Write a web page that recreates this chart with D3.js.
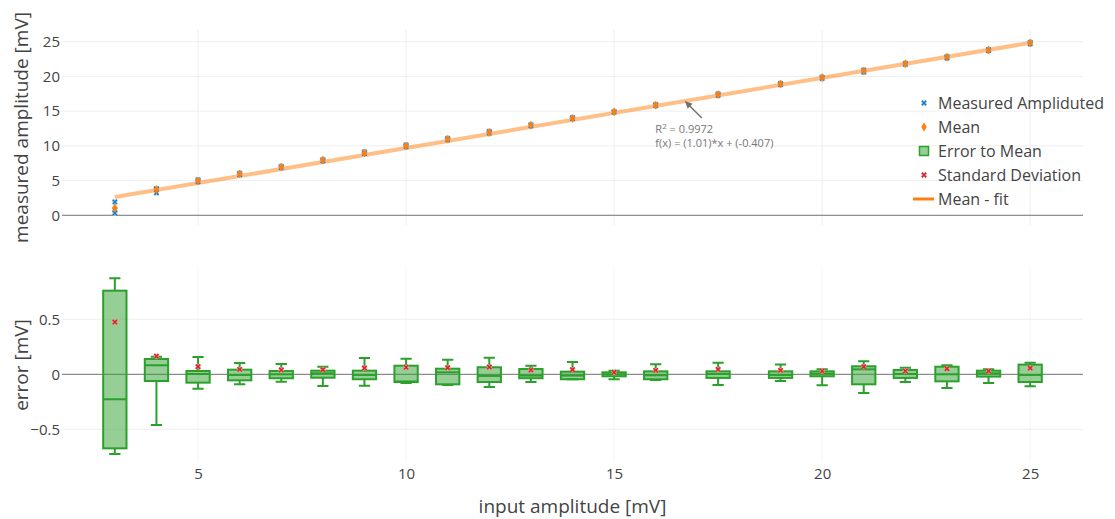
<!DOCTYPE html>
<html>
<head>
<meta charset="utf-8">
<script src="https://cdn.jsdelivr.net/npm/d3@7"></script>
<style>
  html, body { margin: 0; padding: 0; background: #fff; }
  svg { display: block; font-family: "Open Sans", sans-serif; }
</style>
</head>
<body>
<svg id="chart" width="1115" height="519"></svg>
<script>
// Input amplitudes (mV)
const inputs = [3, 4, 5, 6, 7, 8, 9, 10, 11, 12, 13, 14, 15, 16, 17.5, 19, 20, 21, 22, 23, 24, 25];

// Individual measured amplitudes per input (mV)
const measured = [
  [1.92, 0.82, 0.32], [3.85, 3.77, 3.23], [5.11, 4.95, 4.82], [6.05, 5.94, 5.86],
  [7.04, 6.95, 6.88], [8.02, 7.96, 7.84], [9.13, 8.97, 8.88], [10.12, 9.92, 9.90],
  [11.08, 10.97, 10.85], [12.08, 11.92, 11.82], [13.04, 12.95, 12.89], [14.07, 13.95, 13.92],
  [14.93, 14.90, 14.86], [15.95, 15.85, 15.81], [17.49, 17.38, 17.28], [18.99, 18.89, 18.84],
  [19.88, 19.84, 19.73], [20.92, 20.85, 20.63], [21.88, 21.82, 21.75], [22.85, 22.77, 22.65],
  [23.85, 23.81, 23.72], [24.92, 24.80, 24.70]
];

// Mean measured amplitude per input (mV)
const means = [1.05, 3.69, 4.95, 5.95, 6.95, 7.95, 8.98, 9.98, 10.95, 11.93, 12.96, 13.96,
  14.90, 15.86, 17.38, 18.90, 19.83, 20.80, 21.82, 22.77, 23.80, 24.81];

// Linear fit of the means
const fitSlope = 1.01;
const fitIntercept = -0.407;
const fitR2 = 0.9972;
const fitRange = [3, 25];
const fitLabelX = 16.7;

// Error to mean: box statistics per input (mV)
const errUpper  = [0.873, 0.160, 0.157, 0.103, 0.094, 0.069, 0.148, 0.142, 0.133, 0.151, 0.078, 0.112, 0.033, 0.091, 0.106, 0.088, 0.045, 0.118, 0.060, 0.082, 0.045, 0.106];
const errQ3     = [0.760, 0.139, 0.030, 0.042, 0.030, 0.033, 0.033, 0.078, 0.051, 0.064, 0.048, 0.024, 0.018, 0.027, 0.027, 0.027, 0.027, 0.073, 0.039, 0.069, 0.033, 0.088];
const errMedian = [-0.227, 0.082, 0.003, -0.006, 0.000, 0.009, -0.006, -0.065, 0.018, -0.015, -0.012, -0.012, 0.000, -0.009, 0.003, -0.006, 0.006, 0.045, 0.003, 0.000, 0.009, -0.006];
const errQ1     = [-0.673, -0.061, -0.076, -0.055, -0.036, -0.031, -0.045, -0.070, -0.091, -0.070, -0.036, -0.045, -0.018, -0.045, -0.033, -0.033, -0.018, -0.091, -0.033, -0.064, -0.021, -0.070];
const errLower  = [-0.725, -0.461, -0.131, -0.091, -0.067, -0.106, -0.103, -0.079, -0.097, -0.115, -0.070, -0.045, -0.045, -0.052, -0.097, -0.061, -0.100, -0.170, -0.070, -0.124, -0.079, -0.109];
const stdDev    = [0.475, 0.164, 0.069, 0.045, 0.039, 0.042, 0.057, 0.064, 0.060, 0.066, 0.039, 0.042, 0.018, 0.036, 0.045, 0.036, 0.030, 0.069, 0.030, 0.051, 0.030, 0.057];

// Tick values
const xTicks = [5, 10, 15, 20, 25];
const yTopTicks = [0, 5, 10, 15, 20, 25];
const yBotTicks = [-0.5, 0, 0.5];

const legendItems = ["Measured Ampliduted", "Mean", "Error to Mean", "Standard Deviation", "Mean - fit"];

// ---- layout ----
const C = {
  blue: "#1f77b4", orange: "#ff7f0e", green: "#2ca02c", red: "#d62728",
  text: "#444", grid: "#eeeeee", zero: "#707070"
};
const plotL = 62, plotR = 1083;
const topPanel = { y0: 30, y1: 225 };
const botPanel = { y0: 268, y1: 462 };
const boxWidth = 0.56, capWidth = 0.27;

const svg = d3.select("#chart");
const x = d3.scaleLinear().domain([1.73, 26.27]).range([plotL, plotR]);
const yTop = d3.scaleLinear().domain([-1.4, 26.69]).range([topPanel.y1, topPanel.y0]);
const yBot = d3.scaleLinear().domain([-0.797, 0.966]).range([botPanel.y1, botPanel.y0]);
const minus = v => d3.format("")(v).replace("-", "\u2212");

// ---- grids & axes ----
function grid(g, ys, yTicks, vGridColor) {
  g.append("g").selectAll("line").data(xTicks).join("line")
    .attr("x1", d => x(d)).attr("x2", d => x(d))
    .attr("y1", ys.range()[1]).attr("y2", ys.range()[0])
    .attr("stroke", vGridColor).attr("stroke-width", 1);
  g.append("g").selectAll("line").data(yTicks.filter(d => d !== 0)).join("line")
    .attr("x1", plotL).attr("x2", plotR)
    .attr("y1", d => ys(d)).attr("y2", d => ys(d))
    .attr("stroke", C.grid).attr("stroke-width", 1);
  // left tick labels via a d3 axis with its line and ticks hidden
  const ax = g.append("g").attr("transform", `translate(${plotL - 2},0)`)
    .call(d3.axisLeft(ys).tickValues(yTicks).tickSize(0).tickPadding(0).tickFormat(minus));
  ax.select(".domain").remove();
  ax.selectAll("text").attr("fill", C.text).style("font-size", "15px")
    .style("font-family", "'Open Sans', sans-serif");
}

const gTop = svg.append("g");
grid(gTop, yTop, yTopTicks, C.grid);
const gBot = svg.append("g");
grid(gBot, yBot, yBotTicks, "#f5f5f5");

// x tick labels under the bottom plot
const xAx = svg.append("g").attr("transform", `translate(0,${botPanel.y1 + 6})`)
  .call(d3.axisBottom(x).tickValues(xTicks).tickSize(0).tickPadding(0));
xAx.select(".domain").remove();
xAx.selectAll("text").attr("fill", C.text).style("font-size", "15px")
  .style("font-family", "'Open Sans', sans-serif");

// zero lines
gTop.append("line").attr("x1", plotL).attr("x2", plotR)
  .attr("y1", yTop(0)).attr("y2", yTop(0)).attr("stroke", C.zero).attr("stroke-width", 1);
gBot.append("line").attr("x1", plotL).attr("x2", plotR)
  .attr("y1", yBot(0)).attr("y2", yBot(0)).attr("stroke", C.zero).attr("stroke-width", 1);

// axis titles
svg.append("text").attr("transform", `translate(28,${(topPanel.y0 + topPanel.y1) / 2}) rotate(-90)`)
  .attr("text-anchor", "middle").attr("fill", C.text).style("font-size", "19px")
  .text("measured amplitude [mV]");
svg.append("text").attr("transform", `translate(28,${(botPanel.y0 + botPanel.y1) / 2}) rotate(-90)`)
  .attr("text-anchor", "middle").attr("fill", C.text).style("font-size", "19px")
  .text("error [mV]");
svg.append("text").attr("x", (plotL + plotR) / 2).attr("y", 513)
  .attr("text-anchor", "middle").attr("fill", C.text).style("font-size", "19px")
  .text("input amplitude [mV]");

// ---- marker helpers ----
const xPath = d3.symbol().type(d3.symbolX).size(14)();
const diamondPath = d3.symbol().type(d3.symbolDiamond).size(18)();
function measuredMarker(sel) {
  sel.append("path").attr("d", xPath).attr("fill", "none")
    .attr("stroke", "#a9cbe6").attr("stroke-width", 2.8);
  sel.append("path").attr("d", xPath).attr("fill", "none")
    .attr("stroke", C.blue).attr("stroke-width", 1.3);
}
function meanMarker(sel) {
  sel.append("path").attr("d", diamondPath).attr("fill", C.orange)
    .attr("stroke", C.orange).attr("stroke-width", 0.8);
}
function stdMarker(sel) {
  const p = d3.symbol().type(d3.symbolX).size(14)();
  sel.append("path").attr("d", p).attr("fill", "none")
    .attr("stroke", "#efa0a0").attr("stroke-width", 2.8);
  sel.append("path").attr("d", p).attr("fill", "none")
    .attr("stroke", C.red).attr("stroke-width", 1.5);
}

// ---- top plot: fit line ----
const fitData = fitRange.map(v => [v, fitSlope * v + fitIntercept]);
gTop.append("path").datum(fitData)
  .attr("d", d3.line().x(d => x(d[0])).y(d => yTop(d[1])))
  .attr("fill", "none").attr("stroke", C.orange).attr("stroke-opacity", 0.5)
  .attr("stroke-width", 4);

// measured points
const measPts = inputs.flatMap((v, i) => measured[i].map(m => [v, m]));
gTop.append("g").selectAll("g").data(measPts).join("g")
  .attr("transform", d => `translate(${x(d[0])},${yTop(d[1])})`)
  .each(function () { measuredMarker(d3.select(this)); });

// means
gTop.append("g").selectAll("g").data(inputs).join("g")
  .attr("transform", (d, i) => `translate(${x(d)},${yTop(means[i])})`)
  .each(function () { meanMarker(d3.select(this)); });

// fit annotation
const ax0 = x(fitLabelX), ay0 = yTop(fitSlope * fitLabelX + fitIntercept);
const ann = gTop.append("g").attr("fill", "#666").style("font-size", "11px");
const ax1 = ax0 + 17, ay1 = ay0 + 17;
const ang = Math.atan2(ay0 - ay1, ax0 - ax1);
const hx = ax0 - 6 * Math.cos(ang), hy = ay0 - 6 * Math.sin(ang);
ann.append("line").attr("x1", ax1).attr("y1", ay1).attr("x2", hx).attr("y2", hy)
  .attr("stroke", "#707070").attr("stroke-width", 1.4);
const hw = 3.5;
ann.append("path").attr("fill", "#707070").attr("d",
  `M${ax0},${ay0}L${hx - 1.5 * Math.cos(ang) + hw * Math.sin(ang)},${hy - 1.5 * Math.sin(ang) - hw * Math.cos(ang)}` +
  `L${hx - 1.5 * Math.cos(ang) - hw * Math.sin(ang)},${hy - 1.5 * Math.sin(ang) + hw * Math.cos(ang)}Z`);
const t1 = ann.append("text").attr("x", ax0 - 29.5).attr("y", ay0 + 32).attr("fill", "#777");
t1.append("tspan").text("R");
t1.append("tspan").attr("dy", -4).style("font-size", "8px").text("2");
t1.append("tspan").attr("dy", 4).text(` = ${fitR2}`);
ann.append("text").attr("x", ax0 - 29.5).attr("y", ay0 + 46).attr("fill", "#777")
  .text(`f(x) = (${fitSlope})*x + (${fitIntercept})`);

// ---- bottom plot: error boxes ----
const boxes = inputs.map((v, i) => ({
  x: v, lo: errLower[i], q1: errQ1[i], med: errMedian[i], q3: errQ3[i], hi: errUpper[i], sd: stdDev[i]
}));
const bw = x(boxWidth) - x(0), cw = x(capWidth) - x(0);
const bg = gBot.append("g").selectAll("g").data(boxes).join("g");
bg.append("rect")
  .attr("x", d => x(d.x) - bw / 2).attr("width", bw)
  .attr("y", d => yBot(d.q3)).attr("height", d => Math.max(1, yBot(d.q1) - yBot(d.q3)))
  .attr("fill", C.green).attr("fill-opacity", 0.5)
  .attr("stroke", C.green).attr("stroke-width", 2);
bg.append("line").attr("x1", d => x(d.x) - bw / 2).attr("x2", d => x(d.x) + bw / 2)
  .attr("y1", d => yBot(d.med)).attr("y2", d => yBot(d.med))
  .attr("stroke", C.green).attr("stroke-width", 2);
bg.append("path").attr("fill", "none").attr("stroke", C.green).attr("stroke-width", 2)
  .attr("d", d => {
    const cx = x(d.x);
    return `M${cx},${yBot(d.q3)}V${yBot(d.hi)}M${cx - cw / 2},${yBot(d.hi)}H${cx + cw / 2}` +
           `M${cx},${yBot(d.q1)}V${yBot(d.lo)}M${cx - cw / 2},${yBot(d.lo)}H${cx + cw / 2}`;
  });
bg.append("g").attr("transform", d => `translate(${x(d.x)},${yBot(d.sd)})`)
  .each(function () { stdMarker(d3.select(this)); });

// ---- legend ----
const leg = svg.append("g").attr("transform", "translate(924,103)");
const rows = leg.selectAll("g").data(legendItems).join("g")
  .attr("transform", (d, i) => `translate(0,${i * 24})`);
rows.append("text").attr("x", 14).attr("dy", "0.35em").attr("fill", C.text)
  .style("font-size", "16px").text(d => d);
rows.each(function (d, i) {
  const g = d3.select(this);
  if (i === 0) measuredMarker(g);
  else if (i === 1) meanMarker(g);
  else if (i === 2) g.append("rect").attr("x", -4.5).attr("y", -4.5).attr("width", 9).attr("height", 9)
    .attr("fill", C.green).attr("fill-opacity", 0.5).attr("stroke", C.green).attr("stroke-width", 1.5);
  else if (i === 3) stdMarker(g);
  else g.append("line").attr("x1", -11).attr("x2", 10).attr("stroke", C.orange).attr("stroke-width", 3);
});
</script>
</body>
</html>
